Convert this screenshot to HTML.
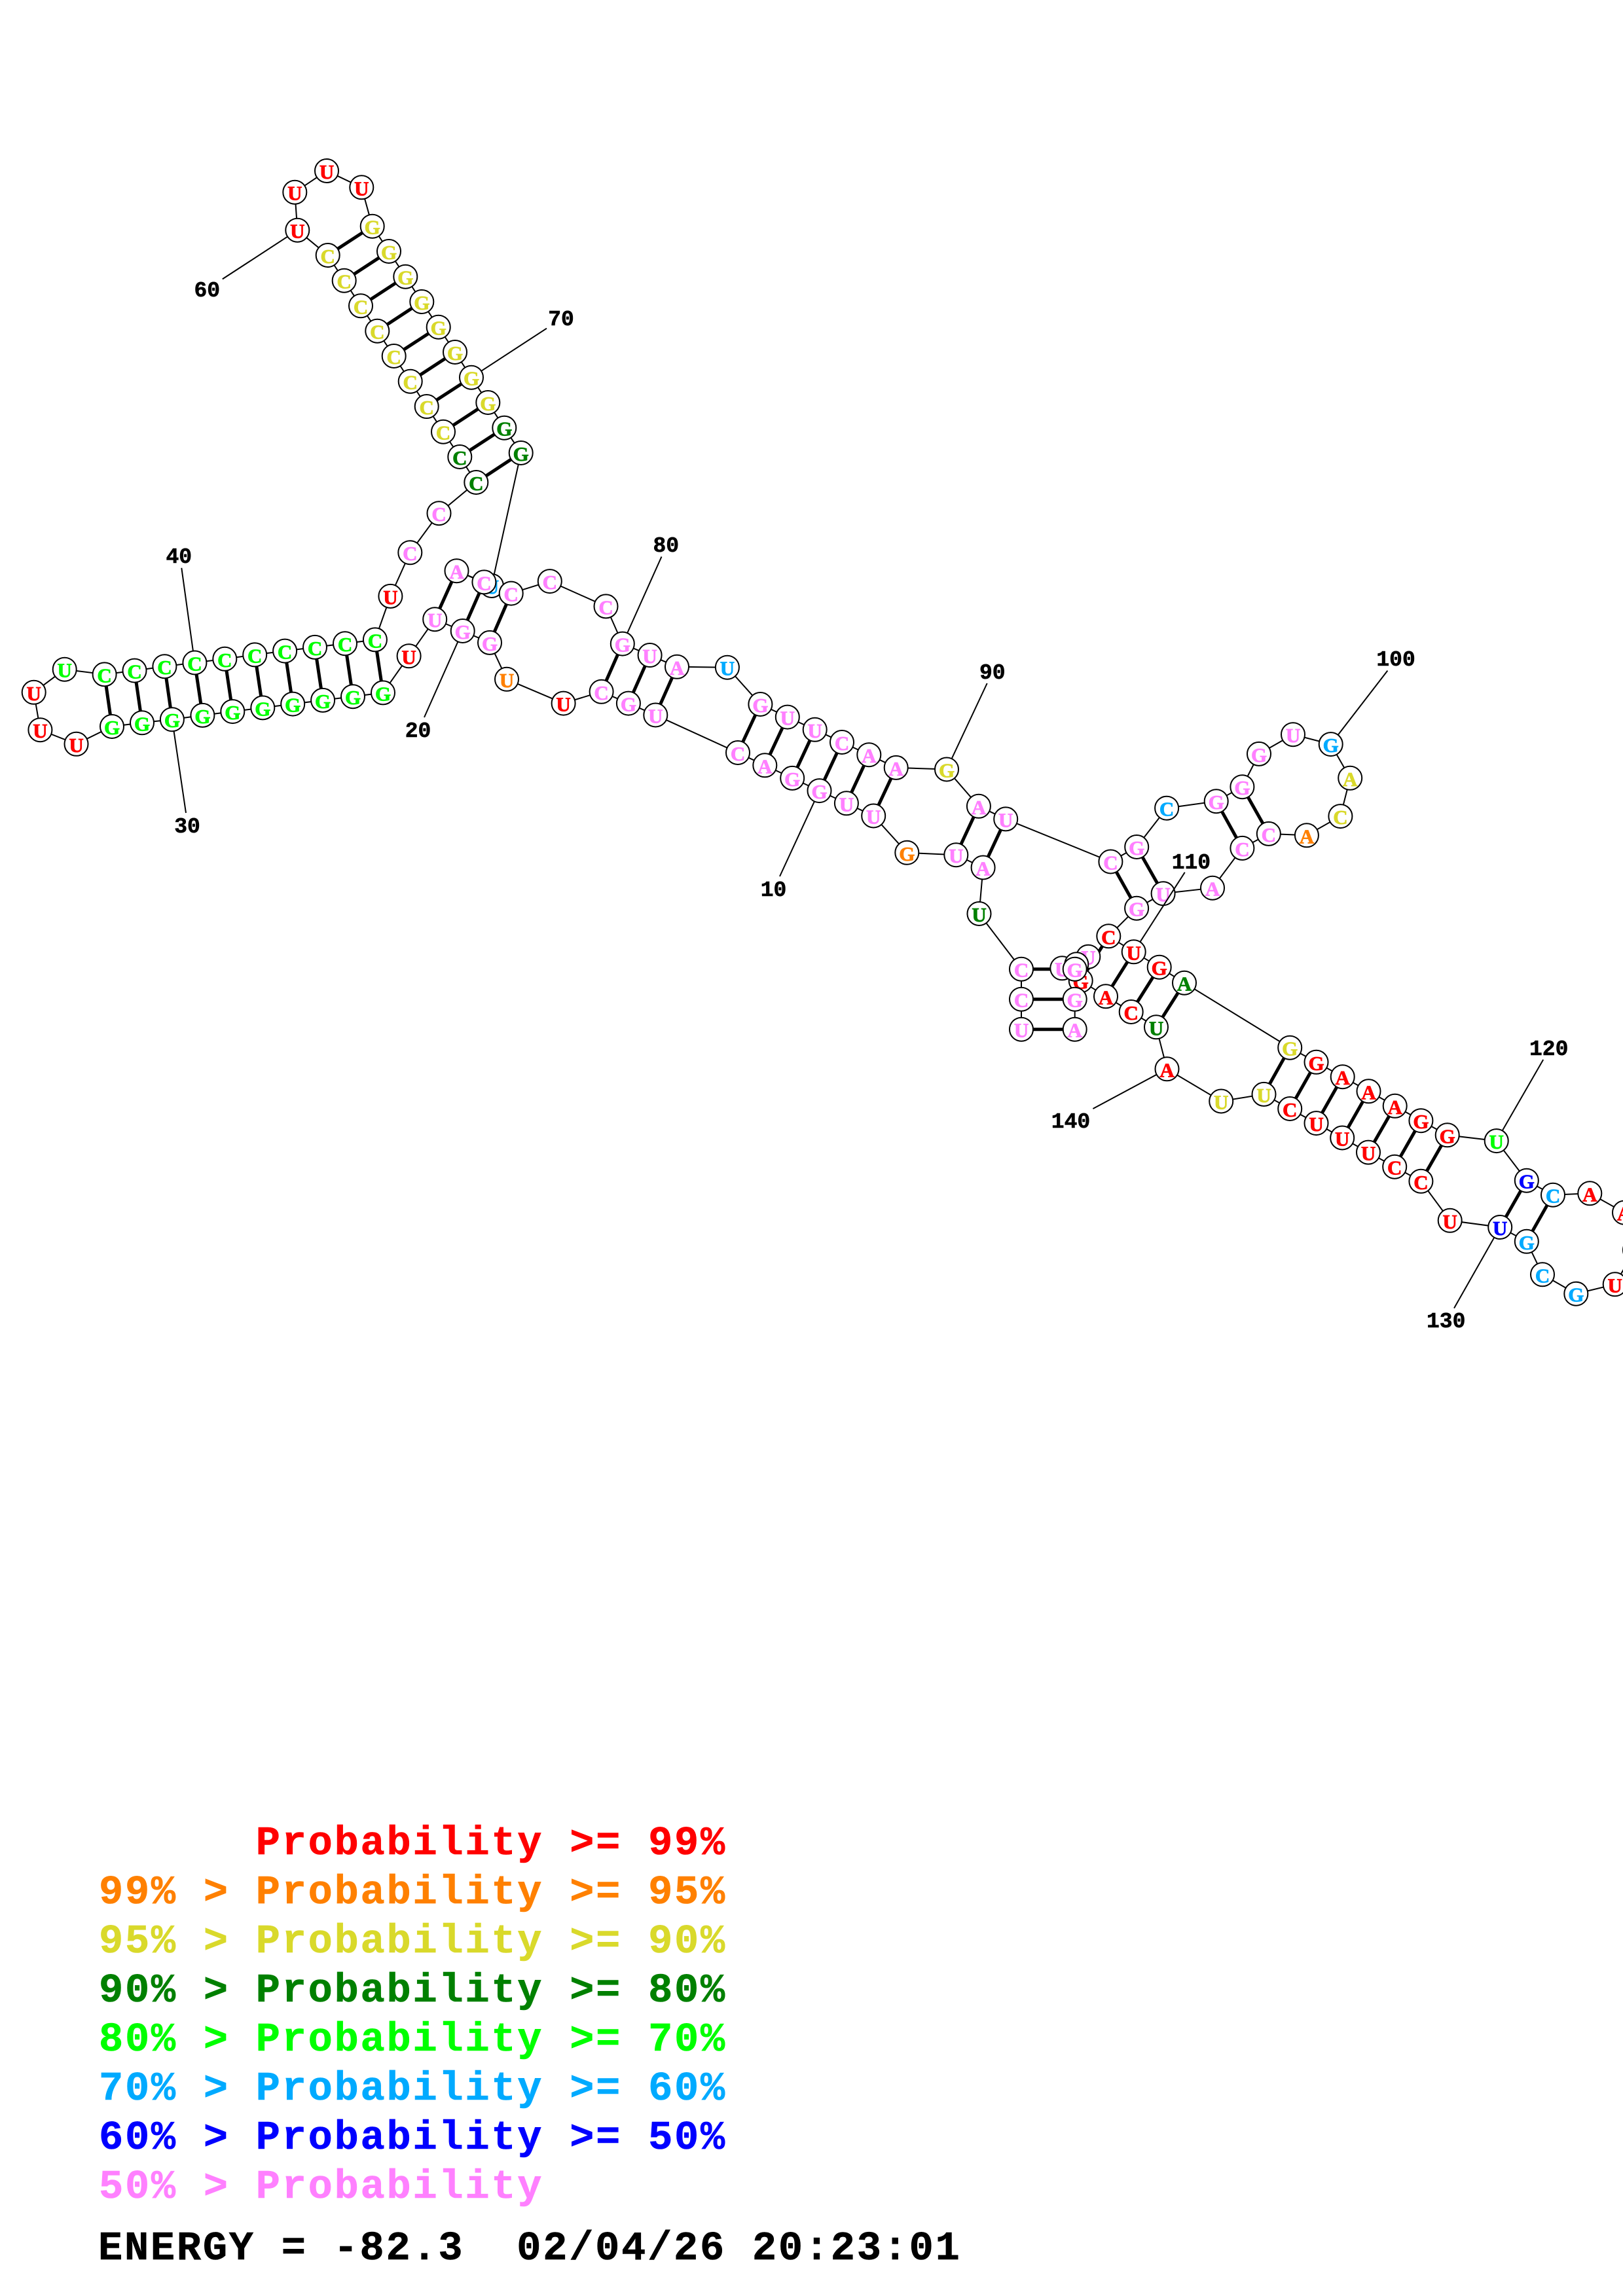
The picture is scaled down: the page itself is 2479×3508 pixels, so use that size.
<!DOCTYPE html>
<html><head><meta charset="utf-8"><title>RNA structure</title>
<style>
html,body{margin:0;padding:0;background:#fff;width:2479px;height:3508px;overflow:hidden}
svg{display:block}
circle{fill:#fff;stroke:#000;stroke-width:2}
g text{font:bold 31px "Liberation Serif",serif;text-anchor:middle;stroke-width:.8}
.r{fill:#ff0000;stroke:#ff0000}.o{fill:#ff8000;stroke:#ff8000}.y{fill:#d9d92b;stroke:#d9d92b}.d{fill:#008000;stroke:#008000}.l{fill:#00ff00;stroke:#00ff00}.b{fill:#00aaff;stroke:#00aaff}.u{fill:#0000ff;stroke:#0000ff}.p{fill:#ff80ff;stroke:#ff80ff}
.bb{fill:none;stroke:#000;stroke-width:2}
.bp{stroke:#000;stroke-width:5;fill:none}
.ld{stroke:#000;stroke-width:2}
.num{font:bold 33px "Liberation Mono",monospace;text-anchor:middle;fill:#000;stroke:#000;stroke-width:.6;transform:translateY(-2px)}
.leg{font:bold 62px "Liberation Mono",monospace;letter-spacing:2.75px;white-space:pre;stroke-width:.6}
</style></head><body>
<svg xmlns="http://www.w3.org/2000/svg" width="2479" height="3508" viewBox="0 0 2479 3508">
<rect width="2479" height="3508" fill="#fff"/>
<polyline class="bb" points="1560,1572.7 1560,1526.7 1560,1480.7 1495.5,1396 1501.6,1325.5 1460.3,1306.2 1385.3,1302.8 1334.2,1246.5 1292.9,1227.3 1251.5,1208.1 1210.2,1188.9 1168.3,1169.3 1127,1150 1001.3,1092.5 959.9,1074.6 918.6,1056.8 860.6,1074.6 774,1037.8 748,981.9 706.7,964 664.2,946.2 624.6,1002.3 585,1058.4 539,1064.2 493.1,1069.9 447.2,1075.6 401.3,1081.4 355.3,1087.1 309.4,1092.9 262.9,1099.2 217,1104.3 171,1110 116.5,1136.8 61.4,1115.2 51.7,1057.8 98.7,1022.7 159.6,1030.4 205.5,1024.6 251.4,1018.2 297.4,1012.5 343.3,1006.8 389.2,1000.4 435.1,994.6 481,988.9 527,983.2 572.9,977.4 596.4,910.9 626.3,844.2 670.5,784.2 727.3,737 702.3,698 677,659.7 651.7,621 626.7,582.7 601.7,544 576.3,505.7 551,467.3 525.7,428.7 500.7,390 454.3,351.7 450.3,293.7 499,261 552.3,286.3 568.7,345.7 594,384 619.3,422.7 644.3,461 669.7,499.7 695,538 720,576.7 745.3,615 770.3,653.7 795.7,692 750.9,895 697.5,872.2 739.4,889.4 780.7,906.6 839.8,888.1 925.5,926.4 950.8,983.6 992.6,1001 1034,1018.8 1110.9,1019.7 1161.4,1076 1202.8,1095.6 1244.7,1114.8 1286,1134 1327.3,1153.2 1368.7,1172.9 1446,1175.5 1494.9,1231.8 1536.2,1251.4 1696.4,1316.5 1736.2,1294 1782.1,1234.7 1857.7,1224.2 1897.4,1202.2 1923,1151.9 1975,1122.2 2032.7,1137.1 2062.2,1188.8 2047.4,1247.1 1995.9,1276.3 1937.8,1273.9 1897.4,1295.9 1852,1356.7 1776.6,1365.2 1736.1,1387.7 1693.3,1430.3 1731.7,1454.3 1770.7,1477.7 1809,1501.7 1970.2,1600.7 2010.5,1622.8 2050.7,1645.2 2090.5,1667.3 2130.7,1689.8 2170.4,1712.2 2210.7,1734.3 2285.7,1743.1 2331.8,1803.7 2372,1825.7 2428.3,1823.3 2481,1852.7 2497,1910 2466.7,1962.3 2407.3,1976.7 2356,1947.3 2331.8,1896.8 2291.2,1875 2214.7,1864.8 2170.4,1804.8 2130.2,1782.7 2090,1760.6 2050.2,1738.5 2010.5,1716.1 1970.2,1694 1930.5,1671.9 1865.2,1682.5 1782.5,1633.3 1766,1569.3 1727.7,1546 1689,1522.3 1650.7,1498.3 1662.3,1461.7 1644.3,1473.3 1622.3,1479.3 1641.7,1480.7 1641.7,1526.7 1641.7,1572.7"/>
<path class="bp" d="M1560,1572.7L1641.7,1572.7M1560,1526.7L1641.7,1526.7M1560,1480.7L1641.7,1480.7M1460.3,1306.2L1494.9,1231.8M1501.6,1325.5L1536.2,1251.4M1334.2,1246.5L1368.7,1172.9M1292.9,1227.3L1327.3,1153.2M1251.5,1208.1L1286,1134M1210.2,1188.9L1244.7,1114.8M1168.3,1169.3L1202.8,1095.6M1127,1150L1161.4,1076M1001.3,1092.5L1034,1018.8M959.9,1074.6L992.6,1001M918.6,1056.8L950.8,983.6M748,981.9L780.7,906.6M706.7,964L739.4,889.4M664.2,946.2L697.5,872.2M585,1058.4L572.9,977.4M539,1064.2L527,983.2M493.1,1069.9L481,988.9M447.2,1075.6L435.1,994.6M401.3,1081.4L389.2,1000.4M355.3,1087.1L343.3,1006.8M309.4,1092.9L297.4,1012.5M262.9,1099.2L251.4,1018.2M217,1104.3L205.5,1024.6M171,1110L159.6,1030.4M727.3,737L795.7,692M702.3,698L770.3,653.7M677,659.7L745.3,615M651.7,621L720,576.7M626.7,582.7L695,538M601.7,544L669.7,499.7M576.3,505.7L644.3,461M551,467.3L619.3,422.7M525.7,428.7L594,384M500.7,390L568.7,345.7M1696.4,1316.5L1736.1,1387.7M1736.2,1294L1776.6,1365.2M1857.7,1224.2L1897.4,1295.9M1897.4,1202.2L1937.8,1273.9M1693.3,1430.3L1650.7,1498.3M1731.7,1454.3L1689,1522.3M1770.7,1477.7L1727.7,1546M1809,1501.7L1766,1569.3M1970.2,1600.7L1930.5,1671.9M2010.5,1622.8L1970.2,1694M2050.7,1645.2L2010.5,1716.1M2090.5,1667.3L2050.2,1738.5M2130.7,1689.8L2090,1760.6M2170.4,1712.2L2130.2,1782.7M2210.7,1734.3L2170.4,1804.8M2331.8,1803.7L2291.2,1875M2372,1825.7L2331.8,1896.8"/>
<g transform="translate(1560,1572.7)"><circle r="18"/><text y="12" class="p">U</text></g>
<g transform="translate(1560,1526.7)"><circle r="18"/><text y="12" class="p">C</text></g>
<g transform="translate(1560,1480.7)"><circle r="18"/><text y="12" class="p">C</text></g>
<g transform="translate(1495.5,1396)"><circle r="18"/><text y="12" class="d">U</text></g>
<g transform="translate(1501.6,1325.5)"><circle r="18"/><text y="12" class="p">A</text></g>
<g transform="translate(1460.3,1306.2)"><circle r="18"/><text y="12" class="p">U</text></g>
<g transform="translate(1385.3,1302.8)"><circle r="18"/><text y="12" class="o">G</text></g>
<g transform="translate(1334.2,1246.5)"><circle r="18"/><text y="12" class="p">U</text></g>
<g transform="translate(1292.9,1227.3)"><circle r="18"/><text y="12" class="p">U</text></g>
<line class="ld" x1="1191" y1="1339" x2="1251.5" y2="1208.1"/>
<g transform="translate(1251.5,1208.1)"><circle r="18"/><text y="12" class="p">G</text></g>
<text class="num" x="1181.5" y="1371">10</text>
<g transform="translate(1210.2,1188.9)"><circle r="18"/><text y="12" class="p">G</text></g>
<g transform="translate(1168.3,1169.3)"><circle r="18"/><text y="12" class="p">A</text></g>
<g transform="translate(1127,1150)"><circle r="18"/><text y="12" class="p">C</text></g>
<g transform="translate(1001.3,1092.5)"><circle r="18"/><text y="12" class="p">U</text></g>
<g transform="translate(959.9,1074.6)"><circle r="18"/><text y="12" class="p">G</text></g>
<g transform="translate(918.6,1056.8)"><circle r="18"/><text y="12" class="p">C</text></g>
<g transform="translate(860.6,1074.6)"><circle r="18"/><text y="12" class="r">U</text></g>
<g transform="translate(774,1037.8)"><circle r="18"/><text y="12" class="o">U</text></g>
<g transform="translate(748,981.9)"><circle r="18"/><text y="12" class="p">G</text></g>
<line class="ld" x1="648" y1="1096" x2="706.7" y2="964"/>
<g transform="translate(706.7,964)"><circle r="18"/><text y="12" class="p">G</text></g>
<text class="num" x="638.5" y="1128">20</text>
<g transform="translate(664.2,946.2)"><circle r="18"/><text y="12" class="p">U</text></g>
<g transform="translate(624.6,1002.3)"><circle r="18"/><text y="12" class="r">U</text></g>
<g transform="translate(585,1058.4)"><circle r="18"/><text y="12" class="l">G</text></g>
<g transform="translate(539,1064.2)"><circle r="18"/><text y="12" class="l">G</text></g>
<g transform="translate(493.1,1069.9)"><circle r="18"/><text y="12" class="l">G</text></g>
<g transform="translate(447.2,1075.6)"><circle r="18"/><text y="12" class="l">G</text></g>
<g transform="translate(401.3,1081.4)"><circle r="18"/><text y="12" class="l">G</text></g>
<g transform="translate(355.3,1087.1)"><circle r="18"/><text y="12" class="l">G</text></g>
<g transform="translate(309.4,1092.9)"><circle r="18"/><text y="12" class="l">G</text></g>
<line class="ld" x1="284" y1="1242" x2="262.9" y2="1099.2"/>
<g transform="translate(262.9,1099.2)"><circle r="18"/><text y="12" class="l">G</text></g>
<text class="num" x="286" y="1274">30</text>
<g transform="translate(217,1104.3)"><circle r="18"/><text y="12" class="l">G</text></g>
<g transform="translate(171,1110)"><circle r="18"/><text y="12" class="l">G</text></g>
<g transform="translate(116.5,1136.8)"><circle r="18"/><text y="12" class="r">U</text></g>
<g transform="translate(61.4,1115.2)"><circle r="18"/><text y="12" class="r">U</text></g>
<g transform="translate(51.7,1057.8)"><circle r="18"/><text y="12" class="r">U</text></g>
<g transform="translate(98.7,1022.7)"><circle r="18"/><text y="12" class="l">U</text></g>
<g transform="translate(159.6,1030.4)"><circle r="18"/><text y="12" class="l">C</text></g>
<g transform="translate(205.5,1024.6)"><circle r="18"/><text y="12" class="l">C</text></g>
<g transform="translate(251.4,1018.2)"><circle r="18"/><text y="12" class="l">C</text></g>
<line class="ld" x1="277.3" y1="867.7" x2="297.4" y2="1012.5"/>
<g transform="translate(297.4,1012.5)"><circle r="18"/><text y="12" class="l">C</text></g>
<text class="num" x="273.3" y="862">40</text>
<g transform="translate(343.3,1006.8)"><circle r="18"/><text y="12" class="l">C</text></g>
<g transform="translate(389.2,1000.4)"><circle r="18"/><text y="12" class="l">C</text></g>
<g transform="translate(435.1,994.6)"><circle r="18"/><text y="12" class="l">C</text></g>
<g transform="translate(481,988.9)"><circle r="18"/><text y="12" class="l">C</text></g>
<g transform="translate(527,983.2)"><circle r="18"/><text y="12" class="l">C</text></g>
<g transform="translate(572.9,977.4)"><circle r="18"/><text y="12" class="l">C</text></g>
<g transform="translate(596.4,910.9)"><circle r="18"/><text y="12" class="r">U</text></g>
<g transform="translate(626.3,844.2)"><circle r="18"/><text y="12" class="p">C</text></g>
<g transform="translate(670.5,784.2)"><circle r="18"/><text y="12" class="p">C</text></g>
<g transform="translate(727.3,737)"><circle r="18"/><text y="12" class="d">C</text></g>
<g transform="translate(702.3,698)"><circle r="18"/><text y="12" class="d">C</text></g>
<g transform="translate(677,659.7)"><circle r="18"/><text y="12" class="y">C</text></g>
<g transform="translate(651.7,621)"><circle r="18"/><text y="12" class="y">C</text></g>
<g transform="translate(626.7,582.7)"><circle r="18"/><text y="12" class="y">C</text></g>
<g transform="translate(601.7,544)"><circle r="18"/><text y="12" class="y">C</text></g>
<g transform="translate(576.3,505.7)"><circle r="18"/><text y="12" class="y">C</text></g>
<g transform="translate(551,467.3)"><circle r="18"/><text y="12" class="y">C</text></g>
<g transform="translate(525.7,428.7)"><circle r="18"/><text y="12" class="y">C</text></g>
<g transform="translate(500.7,390)"><circle r="18"/><text y="12" class="y">C</text></g>
<line class="ld" x1="339.8" y1="426.4" x2="454.3" y2="351.7"/>
<g transform="translate(454.3,351.7)"><circle r="18"/><text y="12" class="r">U</text></g>
<text class="num" x="316.3" y="455">60</text>
<g transform="translate(450.3,293.7)"><circle r="18"/><text y="12" class="r">U</text></g>
<g transform="translate(499,261)"><circle r="18"/><text y="12" class="r">U</text></g>
<g transform="translate(552.3,286.3)"><circle r="18"/><text y="12" class="r">U</text></g>
<g transform="translate(568.7,345.7)"><circle r="18"/><text y="12" class="y">G</text></g>
<g transform="translate(594,384)"><circle r="18"/><text y="12" class="y">G</text></g>
<g transform="translate(619.3,422.7)"><circle r="18"/><text y="12" class="y">G</text></g>
<g transform="translate(644.3,461)"><circle r="18"/><text y="12" class="y">G</text></g>
<g transform="translate(669.7,499.7)"><circle r="18"/><text y="12" class="y">G</text></g>
<g transform="translate(695,538)"><circle r="18"/><text y="12" class="y">G</text></g>
<line class="ld" x1="835" y1="501.7" x2="720" y2="576.7"/>
<g transform="translate(720,576.7)"><circle r="18"/><text y="12" class="y">G</text></g>
<text class="num" x="857" y="499">70</text>
<g transform="translate(745.3,615)"><circle r="18"/><text y="12" class="y">G</text></g>
<g transform="translate(770.3,653.7)"><circle r="18"/><text y="12" class="d">G</text></g>
<g transform="translate(795.7,692)"><circle r="18"/><text y="12" class="d">G</text></g>
<g transform="translate(750.9,895)"><circle r="18"/><text y="12" class="b">U</text></g>
<g transform="translate(697.5,872.2)"><circle r="18"/><text y="12" class="p">A</text></g>
<g transform="translate(739.4,889.4)"><circle r="18"/><text y="12" class="p">C</text></g>
<g transform="translate(780.7,906.6)"><circle r="18"/><text y="12" class="p">C</text></g>
<g transform="translate(839.8,888.1)"><circle r="18"/><text y="12" class="p">C</text></g>
<g transform="translate(925.5,926.4)"><circle r="18"/><text y="12" class="p">C</text></g>
<line class="ld" x1="1010.5" y1="850.5" x2="950.8" y2="983.6"/>
<g transform="translate(950.8,983.6)"><circle r="18"/><text y="12" class="p">G</text></g>
<text class="num" x="1017.3" y="845">80</text>
<g transform="translate(992.6,1001)"><circle r="18"/><text y="12" class="p">U</text></g>
<g transform="translate(1034,1018.8)"><circle r="18"/><text y="12" class="p">A</text></g>
<g transform="translate(1110.9,1019.7)"><circle r="18"/><text y="12" class="b">U</text></g>
<g transform="translate(1161.4,1076)"><circle r="18"/><text y="12" class="p">G</text></g>
<g transform="translate(1202.8,1095.6)"><circle r="18"/><text y="12" class="p">U</text></g>
<g transform="translate(1244.7,1114.8)"><circle r="18"/><text y="12" class="p">U</text></g>
<g transform="translate(1286,1134)"><circle r="18"/><text y="12" class="p">C</text></g>
<g transform="translate(1327.3,1153.2)"><circle r="18"/><text y="12" class="p">A</text></g>
<g transform="translate(1368.7,1172.9)"><circle r="18"/><text y="12" class="p">A</text></g>
<line class="ld" x1="1507.7" y1="1044" x2="1446" y2="1175.5"/>
<g transform="translate(1446,1175.5)"><circle r="18"/><text y="12" class="y">G</text></g>
<text class="num" x="1515.8" y="1039">90</text>
<g transform="translate(1494.9,1231.8)"><circle r="18"/><text y="12" class="p">A</text></g>
<g transform="translate(1536.2,1251.4)"><circle r="18"/><text y="12" class="p">U</text></g>
<g transform="translate(1696.4,1316.5)"><circle r="18"/><text y="12" class="p">C</text></g>
<g transform="translate(1736.2,1294)"><circle r="18"/><text y="12" class="p">G</text></g>
<g transform="translate(1782.1,1234.7)"><circle r="18"/><text y="12" class="b">C</text></g>
<g transform="translate(1857.7,1224.2)"><circle r="18"/><text y="12" class="p">G</text></g>
<g transform="translate(1897.4,1202.2)"><circle r="18"/><text y="12" class="p">G</text></g>
<g transform="translate(1923,1151.9)"><circle r="18"/><text y="12" class="p">G</text></g>
<g transform="translate(1975,1122.2)"><circle r="18"/><text y="12" class="p">U</text></g>
<line class="ld" x1="2119.4" y1="1024.6" x2="2032.7" y2="1137.1"/>
<g transform="translate(2032.7,1137.1)"><circle r="18"/><text y="12" class="b">G</text></g>
<text class="num" x="2132.1" y="1019">100</text>
<g transform="translate(2062.2,1188.8)"><circle r="18"/><text y="12" class="y">A</text></g>
<g transform="translate(2047.4,1247.1)"><circle r="18"/><text y="12" class="y">C</text></g>
<g transform="translate(1995.9,1276.3)"><circle r="18"/><text y="12" class="o">A</text></g>
<g transform="translate(1937.8,1273.9)"><circle r="18"/><text y="12" class="p">C</text></g>
<g transform="translate(1897.4,1295.9)"><circle r="18"/><text y="12" class="p">C</text></g>
<g transform="translate(1852,1356.7)"><circle r="18"/><text y="12" class="p">A</text></g>
<g transform="translate(1776.6,1365.2)"><circle r="18"/><text y="12" class="p">U</text></g>
<g transform="translate(1736.1,1387.7)"><circle r="18"/><text y="12" class="p">G</text></g>
<g transform="translate(1693.3,1430.3)"><circle r="18"/><text y="12" class="r">C</text></g>
<line class="ld" x1="1809.7" y1="1332.8" x2="1731.7" y2="1454.3"/>
<g transform="translate(1731.7,1454.3)"><circle r="18"/><text y="12" class="r">U</text></g>
<text class="num" x="1819.4" y="1329">110</text>
<g transform="translate(1770.7,1477.7)"><circle r="18"/><text y="12" class="r">G</text></g>
<g transform="translate(1809,1501.7)"><circle r="18"/><text y="12" class="d">A</text></g>
<g transform="translate(1970.2,1600.7)"><circle r="18"/><text y="12" class="y">G</text></g>
<g transform="translate(2010.5,1622.8)"><circle r="18"/><text y="12" class="r">G</text></g>
<g transform="translate(2050.7,1645.2)"><circle r="18"/><text y="12" class="r">A</text></g>
<g transform="translate(2090.5,1667.3)"><circle r="18"/><text y="12" class="r">A</text></g>
<g transform="translate(2130.7,1689.8)"><circle r="18"/><text y="12" class="r">A</text></g>
<g transform="translate(2170.4,1712.2)"><circle r="18"/><text y="12" class="r">G</text></g>
<g transform="translate(2210.7,1734.3)"><circle r="18"/><text y="12" class="r">G</text></g>
<line class="ld" x1="2357.2" y1="1619" x2="2285.7" y2="1743.1"/>
<g transform="translate(2285.7,1743.1)"><circle r="18"/><text y="12" class="l">U</text></g>
<text class="num" x="2365.7" y="1614">120</text>
<g transform="translate(2331.8,1803.7)"><circle r="18"/><text y="12" class="u">G</text></g>
<g transform="translate(2372,1825.7)"><circle r="18"/><text y="12" class="b">C</text></g>
<g transform="translate(2428.3,1823.3)"><circle r="18"/><text y="12" class="r">A</text></g>
<g transform="translate(2481,1852.7)"><circle r="18"/><text y="12" class="r">A</text></g>
<g transform="translate(2497,1910)"><circle r="18"/><text y="12" class="r">A</text></g>
<g transform="translate(2466.7,1962.3)"><circle r="18"/><text y="12" class="r">U</text></g>
<g transform="translate(2407.3,1976.7)"><circle r="18"/><text y="12" class="b">G</text></g>
<g transform="translate(2356,1947.3)"><circle r="18"/><text y="12" class="b">C</text></g>
<g transform="translate(2331.8,1896.8)"><circle r="18"/><text y="12" class="b">G</text></g>
<line class="ld" x1="2221" y1="1998.8" x2="2291.2" y2="1875"/>
<g transform="translate(2291.2,1875)"><circle r="18"/><text y="12" class="u">U</text></g>
<text class="num" x="2208.7" y="2030">130</text>
<g transform="translate(2214.7,1864.8)"><circle r="18"/><text y="12" class="r">U</text></g>
<g transform="translate(2170.4,1804.8)"><circle r="18"/><text y="12" class="r">C</text></g>
<g transform="translate(2130.2,1782.7)"><circle r="18"/><text y="12" class="r">C</text></g>
<g transform="translate(2090,1760.6)"><circle r="18"/><text y="12" class="r">U</text></g>
<g transform="translate(2050.2,1738.5)"><circle r="18"/><text y="12" class="r">U</text></g>
<g transform="translate(2010.5,1716.1)"><circle r="18"/><text y="12" class="r">U</text></g>
<g transform="translate(1970.2,1694)"><circle r="18"/><text y="12" class="r">C</text></g>
<g transform="translate(1930.5,1671.9)"><circle r="18"/><text y="12" class="y">U</text></g>
<g transform="translate(1865.2,1682.5)"><circle r="18"/><text y="12" class="y">U</text></g>
<line class="ld" x1="1669.4" y1="1694" x2="1782.5" y2="1633.3"/>
<g transform="translate(1782.5,1633.3)"><circle r="18"/><text y="12" class="r">A</text></g>
<text class="num" x="1635.5" y="1725">140</text>
<g transform="translate(1766,1569.3)"><circle r="18"/><text y="12" class="d">U</text></g>
<g transform="translate(1727.7,1546)"><circle r="18"/><text y="12" class="r">C</text></g>
<g transform="translate(1689,1522.3)"><circle r="18"/><text y="12" class="r">A</text></g>
<g transform="translate(1650.7,1498.3)"><circle r="18"/><text y="12" class="r">G</text></g>
<g transform="translate(1662.3,1461.7)"><circle r="18"/><text y="12" class="p">U</text></g>
<g transform="translate(1622.3,1479.3)"><circle r="18"/><text y="12" class="p">U</text></g>
<g transform="translate(1644.3,1473.3)"><circle r="18"/><text y="12" class="p">G</text></g>
<g transform="translate(1641.7,1480.7)"><circle r="18"/><text y="12" class="p">G</text></g>
<g transform="translate(1641.7,1526.7)"><circle r="18"/><text y="12" class="p">G</text></g>
<g transform="translate(1641.7,1572.7)"><circle r="18"/><text y="12" class="p">A</text></g>
<text class="leg r" x="151" y="2833" xml:space="preserve">      Probability &gt;= 99%</text>
<text class="leg o" x="151" y="2908" xml:space="preserve">99% &gt; Probability &gt;= 95%</text>
<text class="leg y" x="151" y="2983" xml:space="preserve">95% &gt; Probability &gt;= 90%</text>
<text class="leg d" x="151" y="3058" xml:space="preserve">90% &gt; Probability &gt;= 80%</text>
<text class="leg l" x="151" y="3133" xml:space="preserve">80% &gt; Probability &gt;= 70%</text>
<text class="leg b" x="151" y="3208" xml:space="preserve">70% &gt; Probability &gt;= 60%</text>
<text class="leg u" x="151" y="3283" xml:space="preserve">60% &gt; Probability &gt;= 50%</text>
<text class="leg p" x="151" y="3358" xml:space="preserve">50% &gt; Probability</text>
<text class="leg" fill="#000" stroke="#000" x="150" y="3452" xml:space="preserve">ENERGY = -82.3  02/04/26 20:23:01</text>
</svg>
</body></html>
